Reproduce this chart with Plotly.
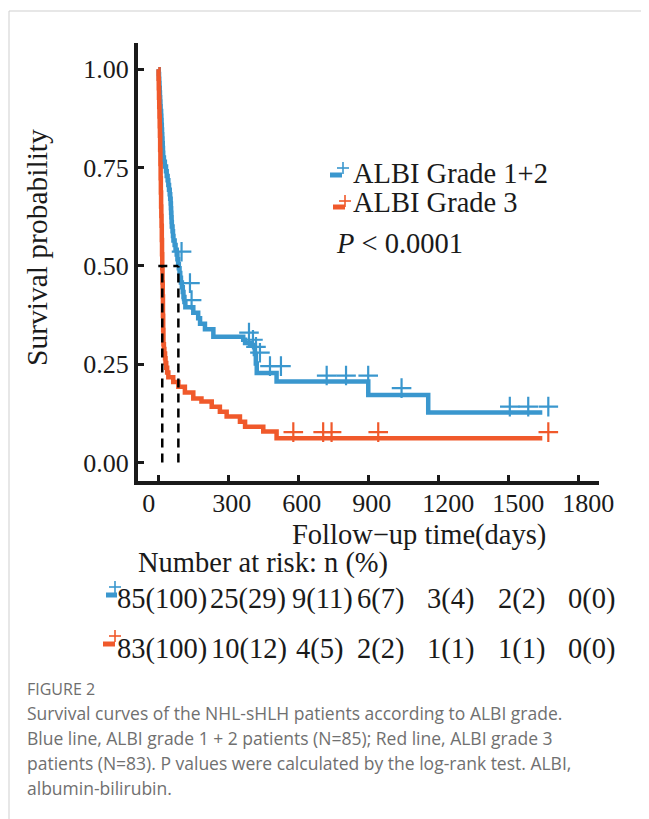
import plotly.graph_objects as go

# ---------------- data ----------------
blue_name = "ALBI Grade 1+2"
red_name = "ALBI Grade 3"

blue_time = [0, 2, 3, 4, 5, 6, 7, 8, 9, 10, 12, 13, 14, 15, 16, 17, 18, 19, 20, 21,
             24, 28, 33, 36, 40, 43, 46, 49, 51, 53, 54, 55, 56, 57, 58, 61, 63, 65,
             70, 74, 79, 82, 85, 88, 91, 94, 97, 101, 105, 108, 112, 116, 150, 171,
             179, 200, 236, 364, 372, 393, 414, 418, 422, 507, 900, 1157, 1646]
blue_surv = [1.0, 0.988, 0.976, 0.965, 0.953, 0.941, 0.929, 0.918, 0.906, 0.894, 0.882,
             0.871, 0.859, 0.847, 0.835, 0.824, 0.812, 0.800, 0.788, 0.776, 0.765, 0.753,
             0.741, 0.729, 0.718, 0.706, 0.694, 0.682, 0.671, 0.659, 0.647, 0.635, 0.624,
             0.612, 0.600, 0.588, 0.576, 0.565, 0.553, 0.541, 0.529, 0.517, 0.505, 0.494,
             0.482, 0.470, 0.458, 0.446, 0.434, 0.421, 0.408, 0.395, 0.381, 0.367, 0.353,
             0.339, 0.320, 0.312, 0.304, 0.299, 0.276, 0.252, 0.228, 0.206, 0.172, 0.127,
             0.127]

red_time = [0, 1, 2, 3, 4, 5, 6, 7, 8, 9, 10, 11, 12, 13, 14, 15, 16, 17, 18, 19, 20,
            21, 22, 24, 26, 29, 31, 34, 38, 43, 64, 86, 114, 150, 185, 229, 264, 293,
            350, 372, 450, 507, 1646]
red_surv = [1.0, 0.976, 0.952, 0.928, 0.904, 0.880, 0.855, 0.831, 0.795, 0.759, 0.723,
            0.687, 0.651, 0.627, 0.602, 0.566, 0.530, 0.494, 0.458, 0.422, 0.373, 0.337,
            0.301, 0.289, 0.277, 0.265, 0.253, 0.241, 0.229, 0.217, 0.205, 0.193, 0.178,
            0.163, 0.155, 0.142, 0.129, 0.117, 0.104, 0.091, 0.079, 0.062, 0.062]

blue_censor_time = [74, 110, 117, 363, 380, 393, 410, 453, 500, 696, 779, 874, 1017,
                    1481, 1560, 1646]
blue_censor_surv = [0.521, 0.441, 0.398, 0.315, 0.297, 0.279, 0.264, 0.230, 0.230,
                    0.206, 0.206, 0.206, 0.174, 0.127, 0.127, 0.127]
red_censor_time = [553, 681, 717, 917, 1646]
red_censor_surv = [0.062, 0.062, 0.062, 0.062, 0.062]

median_blue = 86
median_red = 17

x_ticks = [0, 300, 600, 900, 1200, 1500, 1800]
x_tick_text = ["0", "300", "600", "900", "1200", "1500", "1800"]
y_ticks = [0.0, 0.25, 0.50, 0.75, 1.00]
y_tick_text = ["0.00", "0.25", "0.50", "0.75", "1.00"]

blue_risk = ["85(100)", "25(29)", "9(11)", "6(7)", "3(4)", "2(2)", "0(0)"]
red_risk = ["83(100)", "10(12)", "4(5)", "2(2)", "1(1)", "1(1)", "0(0)"]

p_text = "<i>P</i> < 0.0001"
x_title = "Follow\u2212up time(days)"
y_title = "Survival probability"
risk_title = "Number at risk: n (%)"
fig_label = "FIGURE 2"
caption_lines = [
    "Survival curves of the NHL-sHLH patients according to ALBI grade.",
    "Blue line, ALBI grade 1 + 2 patients (N=85); Red line, ALBI grade 3",
    "patients (N=83). P values were calculated by the log-rank test. ALBI,",
    "albumin-bilirubin.",
]

# ---------------- styles / layout ----------------
BLUE = "#3A97CE"
RED = "#F0592B"
SERIF = "Liberation Serif, Times New Roman, serif"
SANS = "Open Sans, Noto Sans, sans-serif"
FS = 28.5
FS_TICK = 26
TXT = "#1a1a1a"

PAGE_OFF = 8                       # browser body margin
W_FIG, H_FIG = 649 - PAGE_OFF, 819 - PAGE_OFF
# plot area in reference-page pixels
L, R, T, B = 138, 599, 43, 481
X_RANGE = [-87, 1889]
Y_RANGE = [-0.047, 1.067]
DAY_PX = (R - L) / (X_RANGE[1] - X_RANGE[0])
SURV_PX = (B - T) / (Y_RANGE[1] - Y_RANGE[0])
MARK_DX = 6 / DAY_PX      # censor marks drawn 6px right
MARK_DY = 6 / SURV_PX     # and 6px up of their step
LABEL_SHIFT = 16 / DAY_PX  # x tick labels start ~16px left of their tick


def xp(px):
    return (px - L) / (R - L)


def yp(py):
    return (B - py) / (B - T)


fig = go.Figure()

for t, s, c, n in [(blue_time, blue_surv, BLUE, blue_name), (red_time, red_surv, RED, red_name)]:
    fig.add_trace(go.Scatter(x=t, y=s, mode="lines", line=dict(color=c, width=4.5, shape="hv"),
                             name=n, showlegend=False, hoverinfo="skip"))

for t, s, c in [(blue_censor_time, blue_censor_surv, BLUE), (red_censor_time, red_censor_surv, RED)]:
    fig.add_trace(go.Scatter(x=[v + MARK_DX for v in t], y=[v + MARK_DY for v in s],
                             mode="markers", showlegend=False, hoverinfo="skip",
                             marker=dict(symbol="cross-thin-open", size=14, color=c,
                                         line=dict(color=c, width=2.2))))

dash = dict(color="black", width=2.5, dash="9px,6px")
fig.add_trace(go.Scatter(x=[0, median_blue], y=[0.5, 0.5], mode="lines", line=dash,
                         showlegend=False, hoverinfo="skip"))
for m in (median_red, median_blue):
    fig.add_trace(go.Scatter(x=[m, m], y=[0, 0.5], mode="lines", line=dash,
                             showlegend=False, hoverinfo="skip"))

# carrier for the tick-label axis
fig.add_trace(go.Scatter(x=x_ticks, y=[0.5] * len(x_ticks), xaxis="x2", mode="markers",
                         marker=dict(opacity=0), showlegend=False, hoverinfo="skip"))

ann = []
shapes = []


def text(px, py, s, size=FS, font=SERIF, color=TXT, xanchor="center", angle=0):
    ann.append(dict(x=xp(px), y=yp(py), xref="paper", yref="paper", text=s, showarrow=False,
                    xanchor=xanchor, yanchor="middle", textangle=angle, borderpad=0,
                    font=dict(family=font, size=size, color=color)))


def key(x0, x1, yline, cx, cy, arm, color):
    shapes.append(dict(type="line", xref="paper", yref="paper", x0=xp(x0), x1=xp(x1),
                       y0=yp(yline), y1=yp(yline), line=dict(color=color, width=5)))
    shapes.append(dict(type="line", xref="paper", yref="paper", x0=xp(cx - arm), x1=xp(cx + arm),
                       y0=yp(cy), y1=yp(cy), line=dict(color=color, width=1.6)))
    shapes.append(dict(type="line", xref="paper", yref="paper", x0=xp(cx), x1=xp(cx),
                       y0=yp(cy - arm), y1=yp(cy + arm), line=dict(color=color, width=1.6)))


# legend
key(330, 342, 175, 343, 168, 6, BLUE)
key(333, 345, 207, 345, 201, 6, RED)
text(352, 173, blue_name, xanchor="left")
text(352, 202, red_name, xanchor="left")
text(335, 243, p_text, xanchor="left")

# axis titles
text(419, 535, x_title)
text(37, 248, y_title, size=29.5, angle=-90)

# risk table
text(137, 563, risk_title, xanchor="left")
RISK_COL_PX = [162, 248, 322, 380, 450, 521, 591]
RISK_COL_PX2 = [162, 249, 319, 380, 450, 521, 591]
for px, s in zip(RISK_COL_PX, blue_risk):
    text(px, 599, s)
for px, s in zip(RISK_COL_PX2, red_risk):
    text(px, 649, s)
key(106, 117, 595, 115, 587, 6, BLUE)
key(103, 115, 644, 115, 636, 6, RED)

# caption
text(26, 689, fig_label, size=16, font=SANS, color="#6e6e6e", xanchor="left")
for i, line in enumerate(caption_lines):
    text(26, 713 + 25 * i, line, size=17.5, font=SANS, color="#707070", xanchor="left")

# page frame
shapes.append(dict(type="line", xref="paper", yref="paper", x0=xp(9), x1=xp(660),
                   y0=yp(11), y1=yp(11), line=dict(color="#cfcfcf", width=1)))
shapes.append(dict(type="line", xref="paper", yref="paper", x0=xp(9), x1=xp(9),
                   y0=yp(11), y1=yp(830), line=dict(color="#cfcfcf", width=1)))

axis_common = dict(showline=True, linecolor="#1a1a1a", linewidth=4, ticks="inside",
                   ticklen=6, tickwidth=2.5, tickcolor="#1a1a1a", showgrid=False,
                   zeroline=False, tickfont=dict(family=SERIF, size=FS_TICK, color=TXT))

fig.update_layout(
    width=W_FIG, height=H_FIG,
    margin=dict(l=L - PAGE_OFF, r=649 - R, t=T - PAGE_OFF, b=819 - B),
    paper_bgcolor="white", plot_bgcolor="white",
    showlegend=False,
    xaxis=dict(range=X_RANGE, tickvals=x_ticks, showticklabels=False, **axis_common),
    xaxis2=dict(range=[X_RANGE[0] + LABEL_SHIFT, X_RANGE[1] + LABEL_SHIFT],
                overlaying="x", anchor="y", side="bottom", showline=False, ticks="",
                showgrid=False, zeroline=False, tickvals=x_ticks, ticktext=x_tick_text,
                ticklabelposition="outside right", ticklabelstandoff=4,
                tickfont=dict(family=SERIF, size=FS_TICK, color=TXT)),
    yaxis=dict(range=Y_RANGE, tickvals=y_ticks, ticktext=y_tick_text, **axis_common),
    annotations=ann, shapes=shapes,
)

fig.write_html("out.html")
